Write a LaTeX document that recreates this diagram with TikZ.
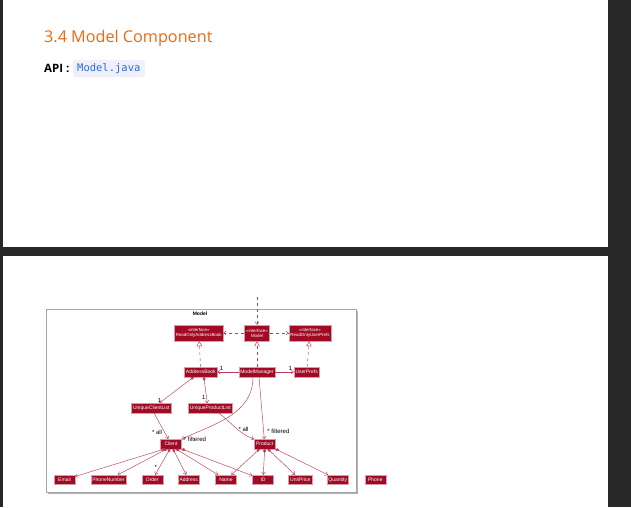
\documentclass[tikz,border=0pt]{standalone}
\usepackage{fontspec}
\setmainfont{Open Sans}
\newfontfamily\codefont{DejaVu Sans Mono}
\newfontfamily\umlfont{Liberation Sans}
\usetikzlibrary{arrows.meta}
\definecolor{umlred}{HTML}{A00A24}
\definecolor{umlline}{HTML}{B8405A}
\definecolor{pagedark}{HTML}{282828}
\definecolor{headorange}{HTML}{EA6A12}
\definecolor{codeblue}{HTML}{2E6BD6}
\definecolor{codebg}{HTML}{EEF0FB}
\tikzset{
  cls/.style={fill=umlred, draw=umlred!40, line width=0.4pt, text=white, font=\umlfont\fontsize{5}{5}\selectfont,
    inner xsep=1.5pt, inner ysep=0pt, minimum width=21pt, minimum height=9.4pt},
  iface/.style={cls, align=center, minimum height=16pt, font=\umlfont\fontsize{4.4}{5}\selectfont},
  lbl/.style={font=\umlfont\fontsize{6}{6}\selectfont, inner sep=0.5pt, text=black},
  link/.style={draw=umlline, line width=0.45pt},
  assoc/.style={link, -{Straight Barb[length=2.5pt,width=4pt]}},
  dep/.style={link, dashed, -{Straight Barb[length=2.5pt,width=4pt]}},
  impl/.style={link, dashed, -{Triangle[open,length=5pt,width=5.5pt,fill=white]}},
  comp/.style={link, {Diamond[length=4pt,width=3pt]}-{Straight Barb[length=2.5pt,width=4pt]}}
}
\begin{document}
\begin{tikzpicture}[x=1pt, y=-1pt]
\useasboundingbox (0,0) rectangle (631,507);
\fill[pagedark] (0,0) rectangle (631,507);
\fill[white] (3,0) rectangle (608,247);
\fill[white] (3,256) rectangle (608,507);

\node[anchor=base west, inner sep=0pt, text=headorange, font=\fontsize{16.2}{17}\selectfont] (title) at (44,42) {3.4 Model Component};
\node[anchor=base west, inner sep=0pt, font=\bfseries\fontsize{11.5}{12}\selectfont] (api) at (44,72) {API :};
\node[anchor=west, fill=codebg, draw=codebg!80!black!20, rounded corners=1.5pt, text=codeblue, font=\codefont\fontsize{10.5}{10.5}\selectfont,
  inner xsep=4pt, minimum height=17pt] (code) at (73,68.5) {Model.java};

\fill[gray!60] (47.5,310.5) rectangle (357.5,493.5);
\draw[gray!70, fill=white, line width=0.8pt] (46,309) rectangle (356,492);
\node[font=\umlfont\bfseries\fontsize{5}{5}\selectfont, inner sep=0pt] (frame) at (200,314) {Model};

\node[iface] (roab) at (198.7,333) {«interface»\\ReadOnlyAddressBook};
\node[iface] (model) at (257,333) {«interface»\\Model};
\node[iface] (roup) at (310,333) {«interface»\\ReadOnlyUserPrefs};
\node[cls] (ab) at (200.8,372) {AddressBook};
\node[cls] (mm) at (257,372) {ModelManager};
\node[cls] (up) at (306.7,372) {UserPrefs};
\node[cls] (ucl) at (151.3,408) {UniqueClientList};
\node[cls] (upl) at (210.3,408) {UniqueProductList};
\node[cls] (client) at (171,444) {Client};
\node[cls] (product) at (264.7,444) {Product};
\node[cls] (email) at (64.5,479.7) {Email};
\node[cls] (phonenum) at (108.5,479.7) {PhoneNumber};
\node[cls] (order) at (152.3,479.7) {Order};
\node[cls] (address) at (188.7,479.7) {Address};
\node[cls] (name) at (226,479.7) {Name};
\node[cls] (id) at (263,479.7) {ID};
\node[cls] (unitprice) at (300.3,479.7) {UnitPrice};
\node[cls] (quantity) at (337.8,479.7) {Quantity};
\node[cls] (phone) at (375.3,479.7) {Phone};

\draw[assoc] (mm) -- node[lbl, pos=0.8, above=0.3pt] {1} (ab);
\draw[assoc] (mm) -- node[lbl, pos=0.8, above=0.3pt] {1} (up);
\draw[impl] (ab) -- (roab);
\draw[impl] (mm) -- (model);
\draw[impl] (up) -- (roup);
\coordinate (entry) at (257,297);
\draw[dep] (entry) -- (model);
\draw[dep] (model) -- (roab);
\draw[dep] (model) -- (roup);
\draw[comp] ([xshift=-7pt]ab.south) -- node[lbl, pos=0.88, left=1.5pt] {1} ([xshift=8pt]ucl.north);
\draw[comp] ([xshift=3pt]ab.south) -- node[lbl, pos=0.8, left=0.5pt] {1} ([xshift=-3pt]upl.north);
\draw[assoc] (ucl) -- node[lbl, pos=0.75, left=2pt] {* all} (client);
\draw[assoc] ([xshift=8pt]upl.south) to[out=-35, in=160] node[lbl, pos=0.75, above=2pt] {* all} (product.north west);
\draw[assoc] ([xshift=-4pt]mm.south) to[out=-90, in=25] node[lbl, pos=1, anchor=south west, xshift=1.5pt, yshift=-3pt] {* filtered} (client.north east);
\draw[assoc] ([xshift=2pt]mm.south) -- node[lbl, pos=0.88, right=3pt] {* filtered} (product);
\draw[comp] ([xshift=-6pt]client.south) -- (email);
\draw[comp] ([xshift=-4pt]client.south) -- (phonenum);
\draw[comp] ([xshift=-1pt]client.south) -- node[lbl, pos=0.7, left=2pt] {*} (order);
\draw[comp] ([xshift=2pt]client.south) -- (address);
\draw[comp] ([xshift=5pt]client.south) -- (name);
\draw[comp] (client.south east) -- (id);
\draw[comp] ([xshift=-5pt]product.south) -- (name);
\draw[comp] (product.south) -- (id);
\draw[comp] ([xshift=3pt]product.south) -- (unitprice);
\draw[comp] (product.south east) -- (quantity);
\end{tikzpicture}
\end{document}
